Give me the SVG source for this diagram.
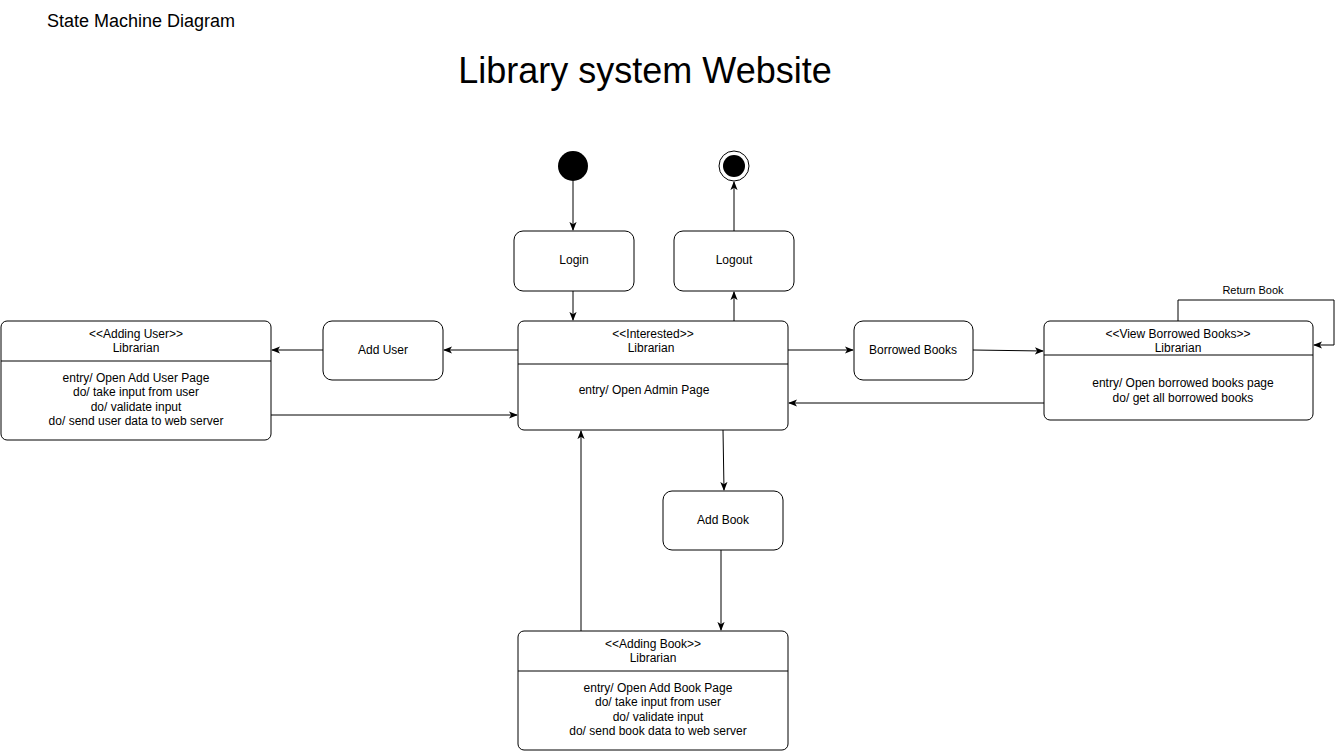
<svg xmlns="http://www.w3.org/2000/svg" width="1342" height="751" viewBox="0 0 1342 751">
<style>
text{font-family:"Liberation Sans",Arial,sans-serif;fill:#000}
.n{font-size:12px;text-anchor:middle}
.st{fill:#fff;stroke:#000;stroke-width:1}
.c{fill:none;stroke:#000;stroke-width:1}
.d{stroke:#000;stroke-width:1}
</style>
<defs>
<marker id="a" viewBox="0 0 10 10" refX="9" refY="5" markerWidth="9" markerHeight="9" markerUnits="userSpaceOnUse" orient="auto">
<path d="M0,1 L10,5 L0,9 L2.5,5 Z" fill="#000"/>
</marker>
</defs>
<rect width="1342" height="751" fill="#fff"/>
<text x="47" y="27" style="font-size:18px">State Machine Diagram</text>
<text x="645" y="83" style="font-size:36px;text-anchor:middle">Library system Website</text>

<g id="connectors">
<path class="c" d="M573,181V230" marker-end="url(#a)"/>
<path class="c" d="M573,291V320" marker-end="url(#a)"/>
<path class="c" d="M734,321V292" marker-end="url(#a)"/>
<path class="c" d="M734,231V182" marker-end="url(#a)"/>
<path class="c" d="M518,350H444" marker-end="url(#a)"/>
<path class="c" d="M323,350H272" marker-end="url(#a)"/>
<path class="c" d="M271,415H517" marker-end="url(#a)"/>
<path class="c" d="M788,350H853" marker-end="url(#a)"/>
<path class="c" d="M973,350L1043,351" marker-end="url(#a)"/>
<path class="c" d="M1044,403H789" marker-end="url(#a)"/>
<path class="c" d="M1178,321V300H1334V345H1314" marker-end="url(#a)"/>
<text x="1253" y="294" style="font-size:11px;text-anchor:middle">Return Book</text>
<path class="c" d="M723,430L724,490" marker-end="url(#a)"/>
<path class="c" d="M721,550V630" marker-end="url(#a)"/>
<path class="c" d="M581,631V431" marker-end="url(#a)"/>
</g>

<g id="initial"><circle cx="573" cy="166" r="15" fill="#000"/></g>
<g id="final"><circle cx="734" cy="166" r="15" fill="#fff" stroke="#000"/><circle cx="734" cy="166" r="11" fill="#000"/></g>

<g id="login"><rect class="st" x="514" y="231" width="120" height="60" rx="9"/><text class="n" x="574" y="264">Login</text></g>
<g id="logout"><rect class="st" x="674" y="231" width="120" height="60" rx="9"/><text class="n" x="734" y="264">Logout</text></g>

<g id="interested">
<rect class="st" x="518" y="321" width="270" height="109" rx="6"/>
<line class="d" x1="518" y1="364" x2="788" y2="364"/>
<text class="n" x="653" y="338">&lt;&lt;Interested&gt;&gt;</text>
<text class="n" x="651" y="352">Librarian</text>
<text class="n" x="644" y="394">entry/ Open Admin Page</text>
</g>

<g id="adding-user">
<rect class="st" x="1" y="321" width="270" height="119" rx="6"/>
<line class="d" x1="1" y1="361" x2="271" y2="361"/>
<text class="n" x="136" y="338">&lt;&lt;Adding User&gt;&gt;</text>
<text class="n" x="136" y="352">Librarian</text>
<text class="n" x="136" y="382">entry/ Open Add User Page</text>
<text class="n" x="136" y="396">do/ take input from user</text>
<text class="n" x="136" y="411">do/ validate input</text>
<text class="n" x="136" y="425">do/ send user data to web server</text>
</g>

<g id="add-user"><rect class="st" x="323" y="321" width="120" height="59" rx="9"/><text class="n" x="383" y="354">Add User</text></g>
<g id="borrowed-books"><rect class="st" x="854" y="321" width="119" height="59" rx="9"/><text class="n" x="913" y="354">Borrowed Books</text></g>

<g id="view-borrowed">
<rect class="st" x="1044" y="321" width="269" height="99" rx="6"/>
<line class="d" x1="1044" y1="355" x2="1313" y2="355"/>
<text class="n" x="1178" y="338">&lt;&lt;View Borrowed Books&gt;&gt;</text>
<text class="n" x="1178" y="352">Librarian</text>
<text class="n" x="1183" y="387">entry/ Open borrowed books page</text>
<text class="n" x="1183" y="402">do/ get all borrowed books</text>
</g>

<g id="add-book"><rect class="st" x="663" y="491" width="120" height="59" rx="9"/><text class="n" x="723" y="524">Add Book</text></g>

<g id="adding-book">
<rect class="st" x="518" y="631" width="270" height="119" rx="6"/>
<line class="d" x1="518" y1="671" x2="788" y2="671"/>
<text class="n" x="653" y="648">&lt;&lt;Adding Book&gt;&gt;</text>
<text class="n" x="653" y="662">Librarian</text>
<text class="n" x="658" y="692">entry/ Open Add Book Page</text>
<text class="n" x="658" y="706">do/ take input from user</text>
<text class="n" x="658" y="721">do/ validate input</text>
<text class="n" x="658" y="735">do/ send book data to web server</text>
</g>
</svg>
